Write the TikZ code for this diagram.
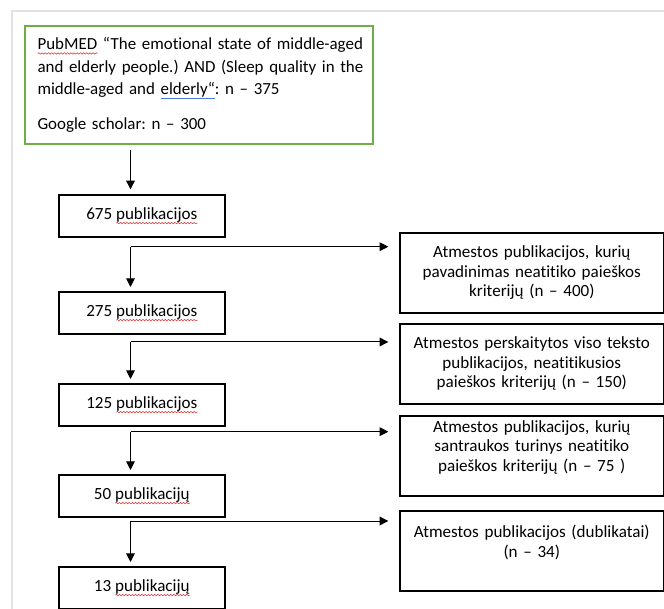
\documentclass[tikz,border=0pt]{standalone}
\usepackage{fontspec}
\setmainfont{Carlito}[Ligatures=NoCommon]
\usetikzlibrary{arrows.meta,decorations.pathmorphing}
\definecolor{framegray}{HTML}{E2E2E2}
\definecolor{boxgreen}{HTML}{70AD47}
\definecolor{spellred}{HTML}{E03030}
\definecolor{gramblue}{HTML}{4A7BD8}
\newsavebox{\wordbox}
\newcommand{\spellerr}[1]{\sbox{\wordbox}{#1}\rlap{\tikz[baseline=0pt]\draw[spellred,line width=0.4pt,decorate,decoration={snake,amplitude=0.55pt,segment length=2.4pt}] (0pt,-2.8pt) -- (\the\wd\wordbox,-2.8pt);}\usebox{\wordbox}}
\newcommand{\gramerr}[1]{\sbox{\wordbox}{#1}\rlap{\tikz[baseline=0pt]\draw[gramblue,line width=0.6pt] (0pt,-2.6pt) -- (\the\wd\wordbox,-2.6pt);}\usebox{\wordbox}}
\frenchspacing

\begin{document}
\begin{tikzpicture}[x=0.75pt,y=-0.75pt,
  >={Triangle[length=6.5pt,width=6.5pt]},
  every node/.style={font=\fontsize{12.8}{14.6}\selectfont},
  pubbox/.style={draw,line width=1.2pt,anchor=north west,minimum width=124.5pt,minimum height=31.5pt,inner sep=0pt},
  outbox/.style={draw,line width=1.2pt,anchor=north west,minimum width=198pt,minimum height=60pt,text width=190pt,align=center,inner sep=0pt},
  flow/.style={->,line width=0.75pt}]
\useasboundingbox (0,0) rectangle (664,609);
\draw [framegray, line width=1.5pt] (12,609)--(12,11)--(664,11);

\node [draw=boxgreen, line width=1.3pt, anchor=north west, minimum width=261pt, minimum height=88.5pt, text width=248pt, align=left, inner xsep=6.5pt, inner ysep=0pt, font=\fontsize{12.7}{16.9}\selectfont\frenchspacing] (search) at (24,25)
  {\hspace*{3pt}\spellerr{PubMED} “The emotional state of middle-aged\\ \hspace*{3pt}and elderly people.) AND (Sleep quality in the\\ \hspace*{3pt}middle-aged and \gramerr{elderly“}: n – 375\\[9pt] \hspace*{3pt}Google scholar: n – 300};

% left column
\node [pubbox] (n675) at (58,194) {675 \spellerr{publikacijos}};
\node [pubbox] (n275) at (58,291) {275 \spellerr{publikacijos}};
\node [pubbox] (n125) at (58,383) {125 \spellerr{publikacijos}};
\node [pubbox] (n50) at (58,474) {50 \spellerr{publikacijų}};
\node [pubbox] (n13) at (58,566) {13 \spellerr{publikacijų}};

% right column
\node [outbox] (rej400) at (399,232) {Atmestos publikacijos, kurių\\ pavadinimas neatitiko paieškos\\ kriterijų (n – 400)};
\node [outbox] (rej150) at (399,323) {Atmestos perskaitytos viso teksto\\ publikacijos, neatitikusios\\ paieškos kriterijų (n – 150)};
\node [outbox] (rej75) at (399,415) {Atmestos publikacijos, kurių\\ santraukos turinys neatitiko\\ paieškos kriterijų (n – 75 )\\ \mbox{}};
\node [outbox] (rej34) at (399,510) {Atmestos publikacijos (dublikatai)\\ (n – 34)\\ \mbox{}};

\coordinate (a0) at (130.5,150);
\draw [flow, shorten >=3.5pt] (a0) -- (a0 |- n675.north);

\coordinate (b1) at (130.5,246.7);
\draw [flow, shorten >=3pt] (b1) -- (b1 |- n275.north);
\draw [flow, shorten >=8pt] (b1) -- (b1 -| rej400.west);

\coordinate (b2) at (130.5,342);
\draw [flow, shorten >=3pt] (b2) -- (b2 |- n125.north);
\draw [flow, shorten >=8pt] (b2) -- (b2 -| rej150.west);

\coordinate (b3) at (130.5,431.7);
\draw [flow, shorten >=3pt] (b3) -- (b3 |- n50.north);
\draw [flow, shorten >=8pt] (b3) -- (b3 -| rej75.west);

\coordinate (b4) at (130.5,521);
\draw [flow, shorten >=3pt] (b4) -- (b4 |- n13.north);
\draw [flow, shorten >=8pt] (b4) -- (b4 -| rej34.west);
\end{tikzpicture}
\end{document}
